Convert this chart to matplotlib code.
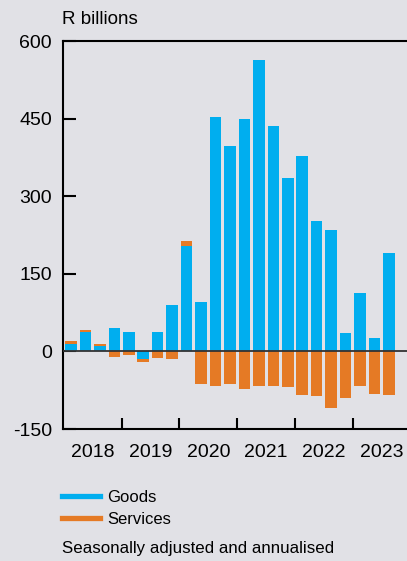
import matplotlib
matplotlib.use('Agg')
import matplotlib.pyplot as plt
from matplotlib.lines import Line2D
import numpy as np

plt.rcParams['font.family'] = ['Liberation Sans', 'DejaVu Sans']

## Quarterly data, 2018Q1 - 2023Q3 (R billions)
quarters = ['2018Q1', '2018Q2', '2018Q3', '2018Q4',
            '2019Q1', '2019Q2', '2019Q3', '2019Q4',
            '2020Q1', '2020Q2', '2020Q3', '2020Q4',
            '2021Q1', '2021Q2', '2021Q3', '2021Q4',
            '2022Q1', '2022Q2', '2022Q3', '2022Q4',
            '2023Q1', '2023Q2', '2023Q3']
goods = [15, 37, 11, 45, 38, -15, 38, 89,
         203, 96, 454, 397, 449, 563, 436, 335,
         377, 252, 234, 35, 112, 25, 190]
services = [6, 5, 3, -10, -6, -5, -12, -15,
            10, -63, -67, -63, -72, -67, -67, -68,
            -85, -87, -110, -90, -67, -82, -85]
years = ['2018', '2019', '2020', '2021', '2022', '2023']
yticks = [-150, 0, 150, 300, 450, 600]

blue = '#00AEEF'
orange = '#E57A25'
bg = '#E1E1E6'

W, H = 407, 561
fig = plt.figure(figsize=(W / 100, H / 100), dpi=100, facecolor=bg)
ax = fig.add_axes([63 / W, (H - 429) / H, (W - 63) / W, (429 - 41) / H])
ax.set_facecolor(bg)

x = np.arange(len(quarters))
g = np.array(goods)
s = np.array(services)
# services stack on goods when both share the sign, otherwise start from zero
s_base = np.where(np.sign(s) == np.sign(g), g, 0)
ax.bar(x, g, width=0.8, color=blue, zorder=2)
ax.bar(x, s, width=0.8, bottom=s_base, color=orange, zorder=2)
ax.axhline(0, color='#333333', lw=1.3, zorder=3)

ax.set_ylim(-150, 600)
ax.set_xlim(-0.55, 23.25)
ax.set_yticks(yticks)
ax.set_yticklabels([str(v) for v in yticks])
ax.tick_params(axis='y', direction='in', length=9.5, width=1.5, pad=8,
               labelsize=14, colors='black')

ax.set_xticks(np.arange(3.5, 23, 4))
ax.set_xticks(np.arange(1.5, 24, 4), minor=True)
ax.set_xticklabels([])
ax.set_xticklabels(years, minor=True)
ax.tick_params(axis='x', which='major', direction='in', length=8, width=1.5)
ax.tick_params(axis='x', which='minor', length=0, pad=10.5, labelsize=14)

for side in ['top', 'left', 'bottom']:
    ax.spines[side].set_linewidth(1.5)
    ax.spines[side].set_color('black')
ax.spines['right'].set_visible(False)

fig.text(62 / W, 1 - 19 / H, 'R billions', fontsize=13.5, va='center', ha='left')

handles = [Line2D([0], [0], color=blue, lw=3.8),
           Line2D([0], [0], color=orange, lw=3.8)]
fig.legend(handles, ['Goods', 'Services'], loc='upper left',
           bbox_to_anchor=(55.5 / W, 1 - 483 / H), frameon=False,
           fontsize=12, handlelength=2.3, handletextpad=0.42,
           labelspacing=0.45, borderaxespad=0)

fig.text(62 / W, 1 - 549 / H, 'Seasonally adjusted and annualised',
         fontsize=12.2, va='center', ha='left')

fig.savefig('out.png', dpi=100, facecolor=bg)
